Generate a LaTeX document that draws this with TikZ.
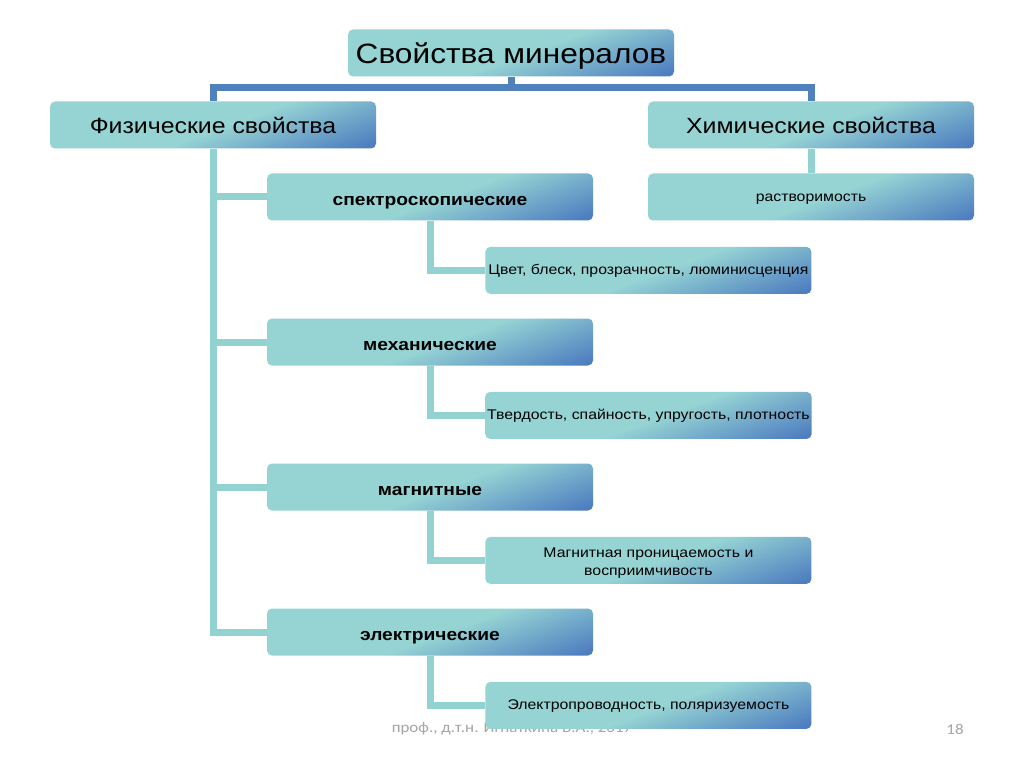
\documentclass[tikz,border=0pt]{standalone}
\usepackage{fontspec}
\setmainfont{Liberation Sans}[FakeStretch=1.13]
\newfontfamily\footfont{Carlito}[FakeStretch=1.13]
\usetikzlibrary{positioning}
\definecolor{boxteal}{RGB}{150,212,212}
\definecolor{boxblue}{RGB}{78,126,192}
\definecolor{linkteal}{RGB}{146,210,208}
\definecolor{linkblue}{RGB}{79,129,189}
\definecolor{footgray}{RGB}{165,165,165}
\pgfdeclarehorizontalshading{boxshade}{100bp}{color(0bp)=(boxteal); color(25bp)=(boxteal); color(52bp)=(boxteal); color(80bp)=(boxblue); color(100bp)=(boxblue)}
\tikzset{
  prop box/.style={
    rectangle,
    rounded corners=5pt,
    shading=boxshade,
    shading angle=-70,
    minimum width=326pt,
    minimum height=47pt,
    inner sep=2pt,
    align=center,
    text=black
  },
  prop root/.style={prop box, font=\fontsize{28}{32}\selectfont, text height=25pt, text depth=4pt},
  prop group/.style={prop box, font=\fontsize{22}{26}\selectfont, text height=21pt, text depth=4pt},
  prop kind/.style={prop box, font=\fontsize{17}{20}\selectfont\bfseries, text height=21pt, text depth=4pt},
  prop item/.style={prop box, font=\fontsize{14}{18}\selectfont, text height=12pt, text depth=3pt},
  trunk/.style={draw=linkblue, line width=7pt},
  link/.style={draw=linkteal, line width=7pt},
  footer/.style={text=footgray, font=\footfont\fontsize{15}{18}\selectfont}
}

\begin{document}
\begin{tikzpicture}[x=1pt, y=-1pt, node distance=145pt]
  \useasboundingbox[fill=white] (0,0) rectangle (1024,767);

  % Footer (lies under the last box)
  \node[footer] (author) at (512,729) {проф., д.т.н. Игнаткина В.А., 2017};
  \node[footer] (page) at (955,729) {18};

  % Root and groups
  \node[prop root] (root) at (511,53) {Свойства минералов};
  \node[prop group] (phys) at (213,125) {Физические свойства};
  \node[prop group] (chem) at (811,125) {Химические свойства};

  % Physical kinds
  \node[prop kind] (spec) at (430,197) {спектроскопические};
  \node[prop kind, below of=spec] (mech) {механические};
  \node[prop kind, below of=mech] (magn) {магнитные};
  \node[prop kind, below of=magn] (elec) {электрические};

  % Items
  \node[prop item, below right=26pt and -108pt of spec.south east] (specitem) {Цвет, блеск, прозрачность, люминисценция};
  \node[prop item, below of=specitem] (mechitem) {Твердость, спайность, упругость, плотность};
  \node[prop item, below of=mechitem, text height=33pt] (magnitem) {Магнитная проницаемость и\\восприимчивость};
  \node[prop item, below of=magnitem] (elecitem) {Электропроводность, поляризуемость};

  % Chemical
  \node[prop item, below of=chem, node distance=72pt] (solub) {растворимость};

  % Connectors
  \coordinate (bar) at (511,88);
  \draw[trunk] (root.south) -- (bar);
  \draw[trunk] (phys.north) |- (bar) -| (chem.north);
  \foreach \kind in {spec,mech,magn,elec}
    \draw[link] (phys.south) |- (\kind.west);
  \foreach \kind/\item in {spec/specitem,mech/mechitem,magn/magnitem,elec/elecitem}
    \draw[link] (\kind.south) |- (\item.west);
  \draw[link] (chem.south) -- (solub.north);

\end{tikzpicture}
\end{document}
